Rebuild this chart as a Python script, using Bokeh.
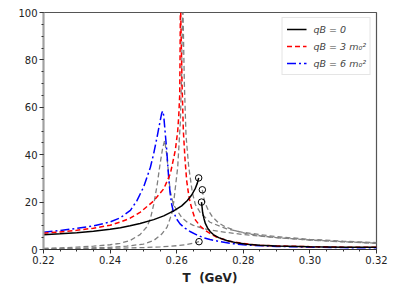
from bokeh.plotting import figure
from bokeh.embed import file_html
from bokeh.resources import INLINE
from bokeh.models import Legend, LegendItem, FixedTicker

# ---- data ----
# qB = 0 (black solid): low-T branch and high-T branch
t_b0_low = [0.220, 0.225, 0.230, 0.235, 0.240, 0.2431, 0.246, 0.249, 0.2531, 0.2561, 0.2591, 0.2615, 0.2632, 0.2645, 0.2656, 0.2662, 0.2666]
v_b0_low = [6.2, 6.6, 7.1, 7.7, 8.5, 9.2, 10.0, 11.0, 12.6, 14.2, 16.3, 18.4, 20.7, 23.0, 25.8, 28.0, 30.2]
t_b0_high = [0.26745, 0.2678, 0.2682, 0.2686, 0.2693, 0.2701, 0.2710, 0.2726, 0.2750, 0.2780, 0.2810, 0.2850, 0.2900, 0.3000, 0.3100, 0.3200]
v_b0_high = [20.0, 15.5, 13.0, 11.0, 9.0, 7.5, 6.3, 5.0, 3.8, 2.8, 2.2, 1.8, 1.5, 1.2, 1.0, 0.9]

# qB = 3 m0^2 (red dashed)
t_b3_low = [0.220, 0.225, 0.230, 0.235, 0.240, 0.2431, 0.246, 0.2491, 0.2531, 0.2561, 0.2581, 0.2596, 0.2603, 0.2606, 0.2609, 0.2610, 0.2611]
v_b3_low = [6.9, 7.4, 8.1, 9.0, 10.2, 11.6, 13.2, 15.8, 20.5, 25.6, 32.0, 42.0, 50.0, 56.0, 65.0, 80.0, 100.0]
t_b3_high = [0.2612, 0.2616, 0.2620, 0.2625, 0.2630, 0.2635, 0.2640, 0.2647, 0.2656, 0.2671, 0.2686, 0.2700, 0.2716, 0.2735, 0.2756, 0.2800, 0.2850, 0.2900, 0.3000, 0.3100, 0.3200]
v_b3_high = [100.0, 70.0, 50.0, 38.0, 29.0, 24.0, 20.0, 16.5, 12.5, 9.8, 8.0, 6.8, 5.5, 4.5, 3.6, 2.5, 1.8, 1.5, 1.2, 1.0, 0.9]

# qB = 6 m0^2 (blue dash-dot)
t_b6 = [0.220, 0.225, 0.230, 0.235, 0.240, 0.2431, 0.2461, 0.2481, 0.2501, 0.2521, 0.2531, 0.2541, 0.2550, 0.2555, 0.2558, 0.2561, 0.2565, 0.2570, 0.2575, 0.2580, 0.2585, 0.2590, 0.2600, 0.2610, 0.2625, 0.2640, 0.2660, 0.2680, 0.2700, 0.2730, 0.2760, 0.2800, 0.2850, 0.2900, 0.3000, 0.3100, 0.3200]
v_b6 = [7.3, 8.0, 8.9, 10.0, 11.6, 13.4, 16.5, 20.7, 26.5, 34.7, 40.5, 47.4, 54.0, 57.5, 58.4, 56.5, 50.0, 42.0, 32.0, 24.0, 19.0, 16.0, 12.8, 10.8, 9.0, 7.6, 6.2, 5.0, 4.2, 3.3, 2.6, 2.0, 1.6, 1.3, 1.0, 0.8, 0.7]

# grey dashed component curves
t_g0_low = [0.220, 0.230, 0.240, 0.250, 0.255, 0.260, 0.263, 0.265, 0.2667]
v_g0_low = [0.2, 0.3, 0.5, 0.8, 1.1, 1.6, 2.1, 2.7, 3.3]
t_g0_high = [0.2677, 0.2680, 0.2686, 0.2695, 0.2707, 0.2725, 0.2747, 0.2775, 0.2807, 0.2850, 0.2900, 0.3000, 0.3100, 0.3200]
v_g0_high = [25.2, 22.5, 19.3, 16.5, 13.8, 11.3, 9.5, 8.0, 6.8, 5.8, 5.0, 4.0, 3.3, 2.7]

t_g3 = [0.220, 0.230, 0.240, 0.245, 0.250, 0.2531, 0.2555, 0.2571, 0.2585, 0.2591, 0.2603, 0.2611, 0.2615, 0.2617, 0.2619, 0.2623, 0.2628, 0.2636, 0.2647, 0.2656, 0.2671, 0.2700, 0.2750, 0.2800, 0.2900, 0.3000, 0.3100, 0.3200]
v_g3 = [0.3, 0.5, 0.9, 1.4, 2.3, 3.8, 6.5, 9.4, 15.0, 20.0, 34.7, 54.0, 75.0, 100.0, 100.0, 70.0, 48.0, 35.0, 24.0, 19.0, 15.5, 11.5, 8.7, 7.2, 5.4, 4.3, 3.5, 2.9]

t_g6 = [0.220, 0.225, 0.230, 0.235, 0.240, 0.243, 0.246, 0.249, 0.251, 0.2521, 0.2531, 0.2541, 0.2550, 0.2558, 0.2564, 0.2570, 0.2575, 0.2580, 0.2590, 0.2601, 0.2615, 0.2632, 0.2650, 0.2671, 0.2700, 0.2750, 0.2800, 0.2900, 0.3000, 0.3100, 0.3200]
v_g6 = [0.5, 0.7, 1.0, 1.4, 2.0, 2.6, 3.8, 6.3, 9.5, 13.0, 19.0, 27.0, 36.0, 43.0, 46.0, 40.0, 33.0, 25.0, 19.0, 16.5, 13.5, 11.5, 10.2, 9.2, 8.2, 7.2, 6.3, 5.0, 4.0, 3.2, 2.6]

labels = ["qB = 0", "qB = 3 m\u2080\u00b2", "qB = 6 m\u2080\u00b2"]
x_ticks = [0.22, 0.24, 0.26, 0.28, 0.30, 0.32]
x_tick_labels = ["0.22", "0.24", "0.26", "0.28", "0.30", "0.32"]
y_ticks = [0, 20, 40, 60, 80, 100]

p = figure(x_range=(0.22, 0.32), y_range=(0, 100), frame_width=333, frame_height=237,
           output_backend="svg", toolbar_location=None,
           min_border_left=43, min_border_right=28, min_border_top=12, min_border_bottom=36)
p.background_fill_color = "white"
p.border_fill_color = "white"
p.xgrid.visible = False
p.ygrid.visible = False
p.outline_line_color = "#555555"
p.outline_line_width = 1.2

gray = "#808080"
gdash = "5 3"
p.line(t_g0_low, v_g0_low, line_color=gray, line_width=1.3, line_dash=gdash)
p.line(t_g0_high, v_g0_high, line_color=gray, line_width=1.3, line_dash=gdash)
p.line(t_g3, v_g3, line_color=gray, line_width=1.3, line_dash=gdash)
p.line(t_g6, v_g6, line_color=gray, line_width=1.3, line_dash=gdash)

r_b6 = p.line(t_b6, v_b6, line_color="blue", line_width=1.5, line_dash="9 3 2 3")
r_b3a = p.line(t_b3_low, v_b3_low, line_color="red", line_width=1.5, line_dash="5 3")
p.line(t_b3_high, v_b3_high, line_color="red", line_width=1.5, line_dash="5 3")
r_b0 = p.line(t_b0_low, v_b0_low, line_color="black", line_width=1.5)
p.line(t_b0_high, v_b0_high, line_color="black", line_width=1.5)

# open circles at the discontinuity ends
p.scatter([t_b0_low[-1], t_b0_high[0], t_g0_low[-1], t_g0_high[0]],
          [v_b0_low[-1], v_b0_high[0], v_g0_low[-1], v_g0_high[0]],
          marker="circle", size=6.5, fill_color=None, line_color="black", line_width=1)

for ax in (p.xaxis[0], p.yaxis[0]):
    ax.major_tick_out = 4
    ax.major_tick_in = 0
    ax.minor_tick_out = 2
    ax.minor_tick_in = 0
    ax.major_label_text_font = "DejaVu Sans"
    ax.major_label_text_font_size = "10px"
    ax.major_label_text_color = "#222222"
    ax.major_tick_line_color = "#333333"
    ax.minor_tick_line_color = "#333333"
    ax.major_label_standoff = 2

p.xaxis.ticker = FixedTicker(ticks=x_ticks, minor_ticks=[0.22 + 0.005 * i for i in range(21)])
p.xaxis.major_label_overrides = {t: s for t, s in zip(x_ticks, x_tick_labels)}
p.yaxis.ticker = FixedTicker(ticks=y_ticks, minor_ticks=list(range(0, 101, 5)))
p.xaxis.axis_line_color = "#333333"
p.xaxis.axis_line_width = 1.2
p.yaxis.axis_line_color = "#a0a0a0"
p.yaxis.axis_line_width = 2

p.xaxis.axis_label = "T\u00a0\u00a0(GeV)"
p.xaxis.axis_label_text_font = "DejaVu Sans"
p.xaxis.axis_label_text_font_style = "bold"
p.xaxis.axis_label_text_font_size = "12px"
p.xaxis.axis_label_text_color = "#222222"
p.xaxis.axis_label_standoff = 4

legend = Legend(items=[LegendItem(label=labels[0], renderers=[r_b0]),
                       LegendItem(label=labels[1], renderers=[r_b3a]),
                       LegendItem(label=labels[2], renderers=[r_b6])],
                location="top_right")
legend.margin = 5
legend.padding = 4
legend.spacing = 3
legend.glyph_width = 20
legend.glyph_height = 14
legend.label_standoff = 7
legend.label_text_font = "DejaVu Sans"
legend.label_text_font_style = "italic"
legend.label_text_font_size = "9.5px"
legend.label_height = 14
legend.border_line_color = "#cccccc"
legend.border_line_width = 1
legend.background_fill_alpha = 1.0
p.add_layout(legend)

open("out.html", "w").write(file_html(p, INLINE))
